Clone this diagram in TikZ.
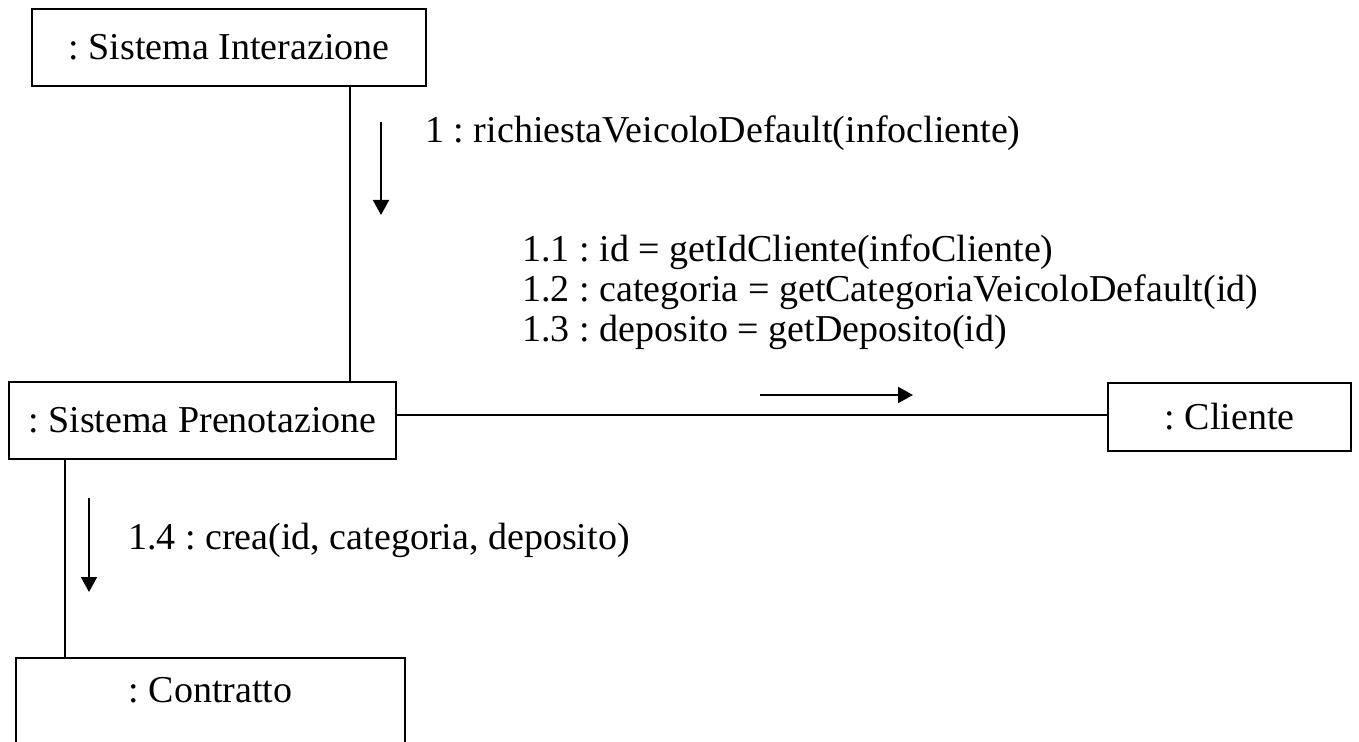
\documentclass[tikz,border=0pt]{standalone}
\usepackage{fontspec}
\setmainfont{Liberation Serif}
\usetikzlibrary{arrows.meta}
\frenchspacing

\tikzset{
    obj/.style={draw, line width=1pt, inner sep=0pt, font=\fontsize{19}{22}\selectfont},
    msg/.style={anchor=base west, inner sep=0pt, font=\fontsize{19}{22}\selectfont},
    flow/.style={line width=1pt, -{Triangle[width=8pt,length=7.5pt]}},
}

\begin{document}
\begin{tikzpicture}[x=0.5pt,y=-0.5pt]
    \useasboundingbox (0,0) rectangle (1359,742);

    % objects
    \node[obj, minimum width=197pt, minimum height=38.5pt] (si) at (229,47.5) {: Sistema Interazione};
    \node[obj, minimum width=193.5pt, minimum height=38.5pt] (sp) at (202.5,420.5) {: Sistema Prenotazione};
    \node[obj, minimum width=121.5pt, minimum height=34pt] (cl) at (1229.5,417) {: Cliente};
    \node[obj, minimum width=194.5pt, anchor=north, inner ysep=9.5pt, text depth=50pt] (co) at (210.5,657) {: Contratto};

    % links
    \coordinate (l1) at (350,0);
    \coordinate (l2) at (0,415);
    \coordinate (l3) at (65,0);
    \draw[line width=1pt] (si.south -| l1) -- (sp.north -| l1);
    \draw[line width=1pt] (sp.east |- l2) -- (cl.west |- l2);
    \draw[line width=1pt] (sp.south -| l3) -- (co.north -| l3);

    % messages
    \coordinate (a1s) at (381,122);
    \coordinate (a1e) at (381,215);
    \coordinate (a2s) at (760,395);
    \coordinate (a2e) at (913,395);
    \coordinate (a3s) at (89,498);
    \coordinate (a3e) at (89,592);
    \draw[flow] (a1s) -- (a1e);
    \draw[flow] (a2s) -- (a2e);
    \draw[flow] (a3s) -- (a3e);

    \node[msg] (m1) at (425,143) {1 : richiestaVeicoloDefault(infocliente)};
    \foreach \t [count=\i] in {
        1.1 : id = getIdCliente(infoCliente),
        1.2 : categoria = getCategoriaVeicoloDefault(id),
        1.3 : deposito = getDeposito(id)} {
        \node[msg] (m1\i) at (522,222+40*\i) {\t};
    }
    \node[msg] (m14) at (128,550) {1.4 : crea(id, categoria, deposito)};

\end{tikzpicture}
\end{document}
